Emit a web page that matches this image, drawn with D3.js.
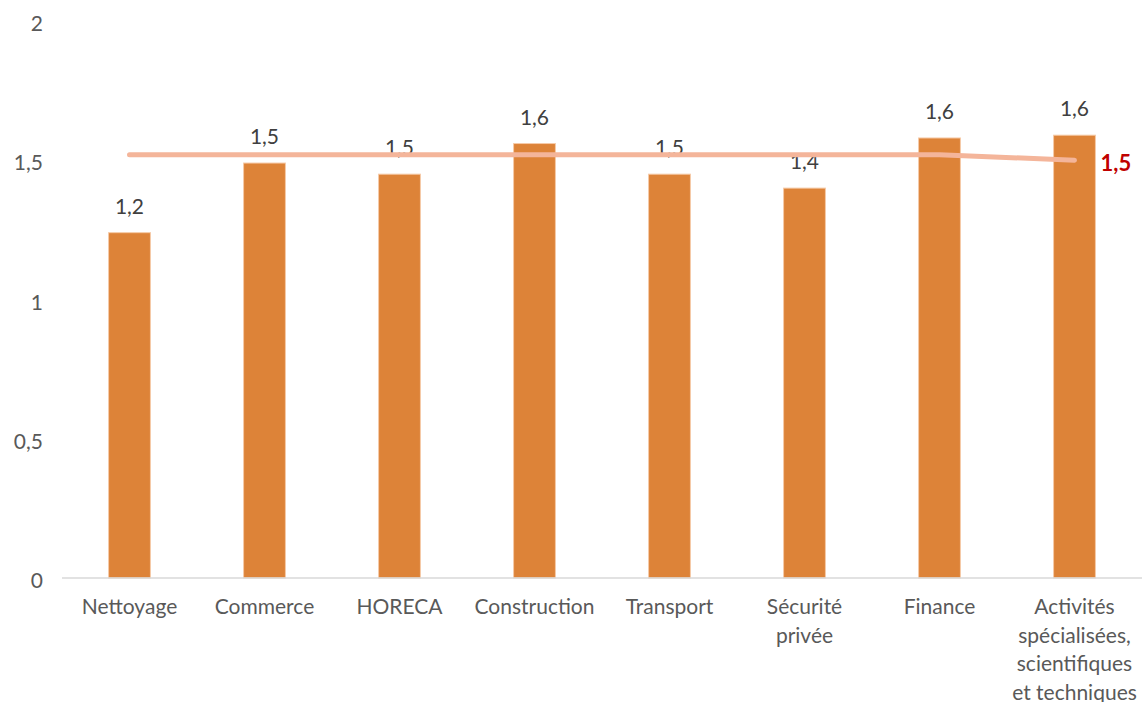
<!DOCTYPE html>
<html>
<head>
<meta charset="utf-8">
<script src="https://cdn.jsdelivr.net/npm/d3@7"></script>
<style>
  html, body { margin: 0; padding: 0; background: #fff; }
  svg { display: block; }
  text { font-family: Lato, "Open Sans", sans-serif; }
</style>
</head>
<body>
<svg id="chart" width="1147" height="702"></svg>
<script>
// Sectors and their values
const categories = [
  "Nettoyage", "Commerce", "HORECA", "Construction",
  "Transport", "Sécurité privée", "Finance",
  "Activités spécialisées, scientifiques et techniques"
];
const categoryLines = [
  ["Nettoyage"], ["Commerce"], ["HORECA"], ["Construction"],
  ["Transport"], ["Sécurité", "privée"], ["Finance"],
  ["Activités", "spécialisées,", "scientifiques", "et techniques"]
];
const barValues = [1.24, 1.49, 1.45, 1.56, 1.45, 1.40, 1.58, 1.59];
const barLabels = ["1,2", "1,5", "1,5", "1,6", "1,5", "1,4", "1,6", "1,6"];
const averageValues = [1.52, 1.52, 1.52, 1.52, 1.52, 1.52, 1.52, 1.50];
const averageLabel = "1,5";
const yTicks = [0, 0.5, 1, 1.5, 2];
const yTickLabels = ["0", "0,5", "1", "1,5", "2"];

const svg = d3.select("#chart");
const plotLeft = 62, plotRight = 1142, plotTop = 21, plotBottom = 578;

const x = d3.scaleBand()
  .domain(categories)
  .range([plotLeft, plotRight])
  .paddingInner(0.69)
  .paddingOuter(0.345);

const y = d3.scaleLinear().domain([0, 2]).range([plotBottom, plotTop]);

// Y tick labels (no gridlines)
svg.append("g").selectAll("text")
  .data(yTicks)
  .join("text")
  .attr("x", 43)
  .attr("y", d => y(d) + 10)
  .attr("text-anchor", "end")
  .attr("font-size", 21)
  .attr("fill", "#595959")
  .text((d, i) => yTickLabels[i]);

// Bars
svg.append("g").selectAll("rect")
  .data(barValues)
  .join("rect")
  .attr("x", (d, i) => x(categories[i]))
  .attr("y", d => y(d))
  .attr("width", x.bandwidth())
  .attr("height", d => y(0) - y(d))
  .attr("fill", "#DD8338")
  .attr("stroke", "#F6CBA8")
  .attr("stroke-width", 1);

// Category axis line
svg.append("line")
  .attr("x1", plotLeft).attr("x2", plotRight)
  .attr("y1", y(0)).attr("y2", y(0))
  .attr("stroke", "#D9D9D9")
  .attr("stroke-width", 1.5);

// Category labels
const cx = i => x(categories[i]) + x.bandwidth() / 2;
const catG = svg.append("g");
categoryLines.forEach((lines, i) => {
  const t = catG.append("text")
    .attr("x", cx(i))
    .attr("y", 614)
    .attr("text-anchor", "middle")
    .attr("font-size", 21)
    .attr("fill", "#595959");
  lines.forEach((ln, j) => {
    t.append("tspan").attr("x", cx(i)).attr("dy", j === 0 ? 0 : 28.5).text(ln);
  });
});

// Value labels above bars
svg.append("g").selectAll("text")
  .data(barValues)
  .join("text")
  .attr("x", (d, i) => cx(i))
  .attr("y", d => y(d) - 19)
  .attr("text-anchor", "middle")
  .attr("font-size", 21)
  .attr("fill", "#404040")
  .text((d, i) => barLabels[i]);

// Average line
const line = d3.line()
  .x((d, i) => cx(i))
  .y(d => y(d));
svg.append("path")
  .datum(averageValues)
  .attr("d", line)
  .attr("fill", "none")
  .attr("stroke", "#F4B59A")
  .attr("stroke-width", 5)
  .attr("stroke-linecap", "round")
  .attr("stroke-linejoin", "round");

// Label at the last point of the average line
const last = averageValues.length - 1;
svg.append("text")
  .attr("x", cx(last) + 26)
  .attr("y", y(averageValues[last]) + 11)
  .attr("font-size", 22)
  .attr("font-weight", "bold")
  .attr("fill", "#C00000")
  .text(averageLabel);
</script>
</body>
</html>
